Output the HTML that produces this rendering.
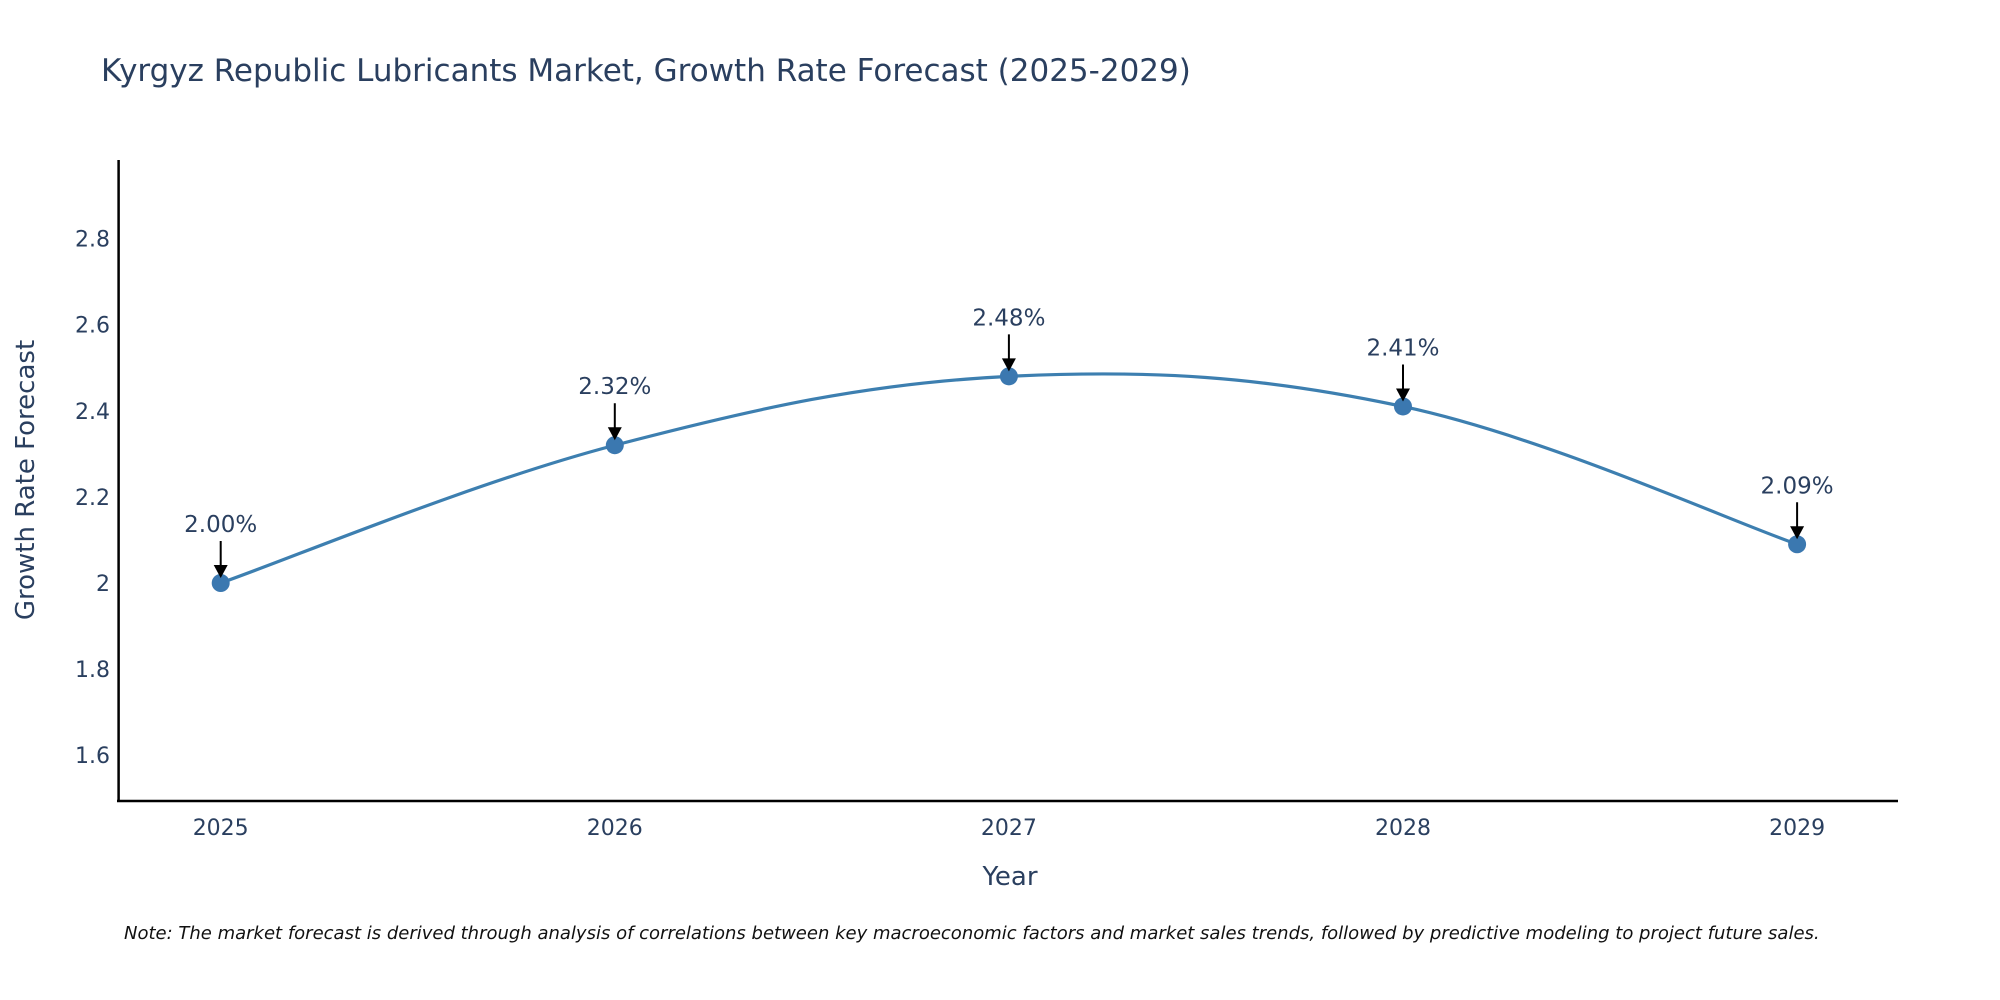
<!DOCTYPE html>
<html><head><meta charset="utf-8"><style>
html,body{margin:0;padding:0;background:#fff;overflow:hidden;}
svg{display:block;font-family:"DejaVu Sans","Liberation Sans",sans-serif;}
</style></head><body>
<svg id="chart" width="2000" height="1000">
<text x="101" y="81" font-size="31" fill="#2a3f5f">Kyrgyz Republic Lubricants Market, Growth Rate Forecast (2025-2029)</text>
<g id="yticks"></g>
<g id="xticks"></g>
<line x1="118.6" y1="160" x2="118.6" y2="802" stroke="#000" stroke-width="2.5"/>
<line x1="117" y1="801" x2="1898" y2="801" stroke="#000" stroke-width="2.5"/>
<path id="line" fill="none" stroke="#3d7fb0" stroke-width="3.2"/>
<g id="points"></g>
<g id="annos"></g>
<text x="1010" y="885" font-size="26" fill="#2a3f5f" text-anchor="middle">Year</text>
<text transform="translate(34,480) rotate(-90)" font-size="26" fill="#2a3f5f" text-anchor="middle">Growth Rate Forecast</text>
<text x="124" y="939" font-size="18" font-style="italic" fill="#111">Note: The market forecast is derived through analysis of correlations between key macroeconomic factors and market sales trends, followed by predictive modeling to project future sales.</text>
</svg>
<script>
const years=[2025,2026,2027,2028,2029];
const values=[2.00,2.32,2.48,2.41,2.09];
const yTicks=[1.6,1.8,2,2.2,2.4,2.6,2.8];
const yTickLabels=["1.6","1.8","2","2.2","2.4","2.6","2.8"];
const NS="http://www.w3.org/2000/svg";
function xs(v){return 220.7+(v-2025)*394.1;}
function ys(v){return 583-(v-2)*430.5;}
function mk(t,a,p){const e=document.createElementNS(NS,t);for(const k in a)e.setAttribute(k,a[k]);p.appendChild(e);return e;}
const yg=document.getElementById('yticks');
yTicks.forEach((v,i)=>{const t=mk('text',{x:110,y:ys(v)+8,'font-size':22,fill:'#2a3f5f','text-anchor':'end'},yg);


t.textContent=yTickLabels[i];});
const xg=document.getElementById('xticks');
years.forEach(y=>{const t=mk('text',{x:xs(y),y:835,'font-size':22,fill:'#2a3f5f','text-anchor':'middle'},xg);


t.textContent=String(y);});
const P=years.map((y,i)=>[xs(y),ys(values[i])]);
let d='M'+P[0][0]+','+P[0][1];const s=0.18;
for(let i=0;i<P.length-1;i++){const p0=P[Math.max(0,i-1)],p1=P[i],p2=P[i+1],p3=P[Math.min(P.length-1,i+2)];
const c1=[p1[0]+(p2[0]-p0[0])*s,p1[1]+(p2[1]-p0[1])*s],c2=[p2[0]-(p3[0]-p1[0])*s,p2[1]-(p3[1]-p1[1])*s];
d+=' C'+c1+' '+c2+' '+p2;}
document.getElementById('line').setAttribute('d',d);
const pg=document.getElementById('points'),ag=document.getElementById('annos');
P.forEach((p,i)=>{const c=mk('circle',{cx:p[0],cy:p[1],r:9,fill:'#3b78b0'},pg);


const l=mk('line',{x1:p[0],y1:p[1]-42,x2:p[0],y2:p[1]-16,stroke:'#000','stroke-width':2},ag);


const h=mk('polygon',{points:(p[0]-7)+','+(p[1]-18)+' '+(p[0]+7)+','+(p[1]-18)+' '+p[0]+','+(p[1]-5),fill:'#000'},ag);


const t=mk('text',{x:p[0],y:p[1]-51,'font-size':23,fill:'#2a3f5f','text-anchor':'middle'},ag);


t.textContent=values[i].toFixed(2)+'%';});
</script>
</body></html>
